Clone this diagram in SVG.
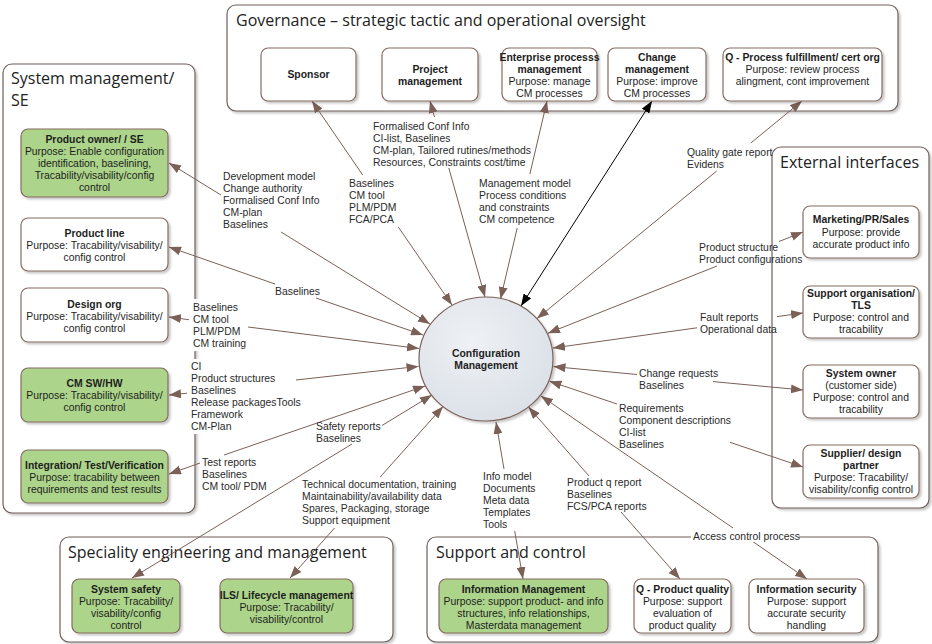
<svg xmlns="http://www.w3.org/2000/svg" width="932" height="644" viewBox="0 0 932 644">
<style>
.gb{fill:#fff;stroke:#6f5f5a;stroke-width:1.2}
.nb{fill:#fff;stroke:#866b60;stroke-width:1.2}
.ng{fill:#acd48a;stroke:#866b60;stroke-width:1.2}
text{font-family:"Liberation Sans",Arial,sans-serif;fill:#1e1e1e}
.ht{font-family:"Open Sans","Noto Sans",sans-serif;font-size:16px;fill:#222}
.tb{font-size:10.4px;font-weight:bold;text-anchor:middle}
.tp{font-size:10.4px;text-anchor:middle}
.lb{font-size:10.4px;fill:#2a2a2a}
.c{fill:none;stroke:#7b6057;stroke-width:1;marker-start:url(#a);marker-end:url(#a)}
.ck{fill:none;stroke:#000;stroke-width:1;marker-start:url(#ak);marker-end:url(#ak)}
</style>
<defs>
<marker id="a" viewBox="0 0 12 9" markerWidth="12" markerHeight="9" refX="12" refY="4.5" orient="auto-start-reverse" markerUnits="userSpaceOnUse"><path d="M0,0 L12,4.5 L0,9 z" fill="#7b6057"/></marker>
<marker id="ak" viewBox="0 0 12 9" markerWidth="12" markerHeight="9" refX="12" refY="4.5" orient="auto-start-reverse" markerUnits="userSpaceOnUse"><path d="M0,0 L12,4.5 L0,9 z" fill="#000"/></marker>
<filter id="sh" x="-10%" y="-10%" width="130%" height="130%"><feDropShadow dx="2" dy="2" stdDeviation="1.2" flood-color="#000" flood-opacity="0.22"/></filter>
<radialGradient id="cg" cx="40%" cy="35%" r="75%"><stop offset="0" stop-color="#eef1f5"/><stop offset="1" stop-color="#d9dfe6"/></radialGradient>
</defs>
<rect width="932" height="644" fill="#fff"/>

<!-- containers -->
<g id="governance">
<rect class="gb" x="227" y="5" width="671" height="106" rx="9" filter="url(#sh)"/>
<text class="ht" x="236" y="26">Governance – strategic tactic and operational oversight</text>
</g>
<g id="system-management">
<rect class="gb" x="3" y="64" width="192" height="449" rx="9" filter="url(#sh)"/>
<text class="ht" x="11" y="84">System management/</text>
<text class="ht" x="11" y="106">SE</text>
</g>
<g id="external-interfaces">
<rect class="gb" x="772" y="147" width="157" height="361" rx="9" filter="url(#sh)"/>
<text class="ht" x="780" y="168">External interfaces</text>
</g>
<g id="speciality">
<rect class="gb" x="60" y="537" width="333" height="105" rx="9" filter="url(#sh)"/>
<text class="ht" x="68" y="558">Speciality engineering and management</text>
</g>
<g id="support-control">
<rect class="gb" x="427" y="537" width="451" height="105" rx="9" filter="url(#sh)"/>
<text class="ht" x="436" y="558">Support and control</text>
</g>

<!-- connectors -->
<g id="connectors">
<path class="c" d="M169,163 L221,195 M281,232 L430,324"/>
<path class="c" d="M169,247 L275,284 M316,298 L423,335"/>
<path class="c" d="M169,317 L191,320 M248,327 L419,348.5"/>
<path class="c" d="M169,395 L189,393 M296,380 L418.5,366.4"/>
<path class="c" d="M169,474 L200,463 M224,455 L425,386"/>
<path class="c" d="M312,101 L362.7,175 M398.3,227 L452,305"/>
<path class="c" d="M430,101 L434.5,117 M448.8,168 L485,297"/>
<path class="c" d="M547,101 L529.9,174 M517.2,228 L500.5,299"/>
<path class="ck" d="M652,101 L521,306"/>
<path class="c" d="M802,101 L750.8,143 M716.7,171 L537,318.6"/>
<path class="c" d="M803,232 L779,241.5 M717,266 L548,333.2"/>
<path class="c" d="M803,313 L777,316.6 M697,327.8 L553,348"/>
<path class="c" d="M803,390 L713,381.6 M637,374.5 L553.5,366.6"/>
<path class="c" d="M803,467 L730,442.3 M617,404 L549.5,381.2"/>
<path class="c" d="M807,579 L752,541 M733,528 L541,396"/>
<path class="c" d="M680,579 L621,512 M589,476 L528.5,407"/>
<path class="c" d="M523,579 L514.7,531 M504,469 L496,422"/>
<path class="c" d="M290,578 L334.6,528 M380.2,477 L443,406.5"/>
<path class="c" d="M132,578 L352,444 M382,425.5 L432,395"/>
</g>

<!-- governance nodes -->
<g id="sponsor">
<rect class="nb" x="261" y="48" width="95" height="53" rx="7" filter="url(#sh)"/>
<text class="tb" x="308.5" y="78">Sponsor</text>
</g>
<g id="project-management">
<rect class="nb" x="382" y="48" width="96" height="53" rx="7" filter="url(#sh)"/>
<text class="tb" x="430" y="73">Project</text>
<text class="tb" x="430" y="85">management</text>
</g>
<g id="enterprise-process">
<rect class="nb" x="502" y="48" width="95" height="53" rx="7" filter="url(#sh)"/>
<text class="tb" x="549.5" y="61">Enterprise processs</text>
<text class="tb" x="549.5" y="73">management</text>
<text class="tp" x="549.5" y="85">Purpose: manage</text>
<text class="tp" x="549.5" y="97">CM processes</text>
</g>
<g id="change-management">
<rect class="nb" x="608" y="48" width="98" height="53" rx="7" filter="url(#sh)"/>
<text class="tb" x="657" y="61">Change</text>
<text class="tb" x="657" y="73">management</text>
<text class="tp" x="657" y="85">Purpose: improve</text>
<text class="tp" x="657" y="97">CM processes</text>
</g>
<g id="q-process">
<rect class="nb" x="723" y="48" width="159" height="53" rx="7" filter="url(#sh)"/>
<text class="tb" x="802.5" y="61">Q - Process fulfillment/ cert org</text>
<text class="tp" x="802.5" y="73">Purpose: review process</text>
<text class="tp" x="802.5" y="85">alingment, cont improvement</text>
</g>

<!-- system management nodes -->
<g id="product-owner">
<rect class="ng" x="21" y="129" width="147" height="68" rx="7" filter="url(#sh)"/>
<text class="tb" x="94.5" y="143">Product owner/ / SE</text>
<text class="tp" x="94.5" y="155">Purpose: Enable configuration</text>
<text class="tp" x="94.5" y="167">identification, baselining,</text>
<text class="tp" x="94.5" y="179">Tracability/visability/config</text>
<text class="tp" x="94.5" y="191">control</text>
</g>
<g id="product-line">
<rect class="nb" x="21" y="218" width="147" height="53" rx="7" filter="url(#sh)"/>
<text class="tb" x="94.5" y="237">Product line</text>
<text class="tp" x="94.5" y="249">Purpose: Tracability/visability/</text>
<text class="tp" x="94.5" y="261">config control</text>
</g>
<g id="design-org">
<rect class="nb" x="21" y="288" width="147" height="54" rx="7" filter="url(#sh)"/>
<text class="tb" x="94.5" y="308">Design org</text>
<text class="tp" x="94.5" y="320">Purpose: Tracability/visability/</text>
<text class="tp" x="94.5" y="332">config control</text>
</g>
<g id="cm-sw-hw">
<rect class="ng" x="21" y="368" width="147" height="54" rx="7" filter="url(#sh)"/>
<text class="tb" x="94.5" y="387">CM SW/HW</text>
<text class="tp" x="94.5" y="399">Purpose: Tracability/visability/</text>
<text class="tp" x="94.5" y="411">config control</text>
</g>
<g id="integration">
<rect class="ng" x="21" y="450" width="147" height="53" rx="7" filter="url(#sh)"/>
<text class="tb" x="94.5" y="469">Integration/ Test/Verification</text>
<text class="tp" x="94.5" y="481">Purpose: tracability between</text>
<text class="tp" x="94.5" y="493">requirements and test results</text>
</g>

<!-- external nodes -->
<g id="marketing">
<rect class="nb" x="803" y="206" width="116" height="52" rx="7" filter="url(#sh)"/>
<text class="tb" x="861" y="223">Marketing/PR/Sales</text>
<text class="tp" x="861" y="236">Purpose: provide</text>
<text class="tp" x="861" y="248">accurate product info</text>
</g>
<g id="support-organisation">
<rect class="nb" x="803" y="286" width="116" height="52" rx="7" filter="url(#sh)"/>
<text class="tb" x="861" y="297">Support organisation/</text>
<text class="tb" x="861" y="309">TLS</text>
<text class="tp" x="861" y="321">Purpose: control and</text>
<text class="tp" x="861" y="333">tracability</text>
</g>
<g id="system-owner">
<rect class="nb" x="803" y="365" width="116" height="53" rx="7" filter="url(#sh)"/>
<text class="tb" x="861" y="377">System owner</text>
<text class="tp" x="861" y="389">(customer side)</text>
<text class="tp" x="861" y="401">Purpose: control and</text>
<text class="tp" x="861" y="413">tracability</text>
</g>
<g id="supplier">
<rect class="nb" x="803" y="445" width="116" height="53" rx="7" filter="url(#sh)"/>
<text class="tb" x="861" y="457">Supplier/ design</text>
<text class="tb" x="861" y="469">partner</text>
<text class="tp" x="861" y="481">Purpose: Tracability/</text>
<text class="tp" x="861" y="493">visability/config control</text>
</g>

<!-- speciality nodes -->
<g id="system-safety">
<rect class="ng" x="72" y="579" width="108" height="54" rx="7" filter="url(#sh)"/>
<text class="tb" x="126" y="593">System safety</text>
<text class="tp" x="126" y="605">Purpose: Tracability/</text>
<text class="tp" x="126" y="617">visability/config</text>
<text class="tp" x="126" y="629">control</text>
</g>
<g id="ils">
<rect class="ng" x="220" y="579" width="133" height="54" rx="7" filter="url(#sh)"/>
<text class="tb" x="286.5" y="599">ILS/ Lifecycle management</text>
<text class="tp" x="286.5" y="611">Purpose: Tracability/</text>
<text class="tp" x="286.5" y="623">visability/control</text>
</g>

<!-- support nodes -->
<g id="information-management">
<rect class="ng" x="439" y="579" width="169" height="54" rx="7" filter="url(#sh)"/>
<text class="tb" x="523.5" y="593">Information Management</text>
<text class="tp" x="523.5" y="605">Purpose: support product- and info</text>
<text class="tp" x="523.5" y="617">structures, info relationships,</text>
<text class="tp" x="523.5" y="629">Masterdata management</text>
</g>
<g id="q-product-quality">
<rect class="nb" x="634" y="579" width="97" height="54" rx="7" filter="url(#sh)"/>
<text class="tb" x="682.5" y="593">Q - Product quality</text>
<text class="tp" x="682.5" y="605">Purpose: support</text>
<text class="tp" x="682.5" y="617">evaluation of</text>
<text class="tp" x="682.5" y="629">product quality</text>
</g>
<g id="information-security">
<rect class="nb" x="749" y="579" width="115" height="54" rx="7" filter="url(#sh)"/>
<text class="tb" x="806.5" y="593">Information security</text>
<text class="tp" x="806.5" y="605">Purpose: support</text>
<text class="tp" x="806.5" y="617">accurate security</text>
<text class="tp" x="806.5" y="629">handling</text>
</g>

<!-- central node -->
<g id="configuration-management">
<ellipse cx="486" cy="359" rx="67" ry="62" fill="url(#cg)" stroke="#7b6057" stroke-width="1.2" filter="url(#sh)"/>
<text class="tb" x="486" y="357">Configuration</text>
<text class="tb" x="486" y="369">Management</text>
</g>

<!-- connector labels -->
<g id="labels">
<rect x="189" y="299" width="10" height="52" fill="#fff"/>
<rect x="187" y="359" width="12" height="75" fill="#fff"/>
<rect x="691" y="530" width="108" height="12" fill="#fff"/>
<text class="lb"><tspan x="223" y="180">Development model</tspan><tspan x="223" y="192">Change authority</tspan><tspan x="223" y="204">Formalised  Conf Info</tspan><tspan x="223" y="216">CM-plan</tspan><tspan x="223" y="228">Baselines</tspan></text>
<text class="lb" x="275" y="295">Baselines</text>
<text class="lb"><tspan x="349" y="187">Baselines</tspan><tspan x="349" y="199">CM tool</tspan><tspan x="349" y="211">PLM/PDM</tspan><tspan x="349" y="223">FCA/PCA</tspan></text>
<text class="lb"><tspan x="373" y="130">Formalised Conf Info</tspan><tspan x="373" y="142">CI-list, Baselines</tspan><tspan x="373" y="154">CM-plan, Tailored rutines/methods</tspan><tspan x="373" y="166">Resources, Constraints cost/time</tspan></text>
<text class="lb"><tspan x="479" y="187">Management model</tspan><tspan x="479" y="199">Process conditions</tspan><tspan x="479" y="211">and constraints</tspan><tspan x="479" y="223">CM competence</tspan></text>
<text class="lb"><tspan x="687" y="156">Quality gate report</tspan><tspan x="687" y="168">Evidens</tspan></text>
<text class="lb"><tspan x="699" y="251">Product structure</tspan><tspan x="699" y="263">Product configurations</tspan></text>
<text class="lb"><tspan x="700" y="321">Fault reports</tspan><tspan x="700" y="333">Operational data</tspan></text>
<text class="lb"><tspan x="639" y="377">Change requests</tspan><tspan x="639" y="389">Baselines</tspan></text>
<text class="lb"><tspan x="619" y="412">Requirements</tspan><tspan x="619" y="424">Component descriptions</tspan><tspan x="619" y="436">CI-list</tspan><tspan x="619" y="448">Baselines</tspan></text>
<text class="lb"><tspan x="567" y="486">Product q report</tspan><tspan x="567" y="498">Baselines</tspan><tspan x="567" y="510">FCS/PCA reports</tspan></text>
<text class="lb"><tspan x="483" y="480">Info model</tspan><tspan x="483" y="492">Documents</tspan><tspan x="483" y="504">Meta data</tspan><tspan x="483" y="516">Templates</tspan><tspan x="483" y="528">Tools</tspan></text>
<text class="lb"><tspan x="302" y="488">Technical documentation, training</tspan><tspan x="302" y="500">Maintainability/availability data</tspan><tspan x="302" y="512">Spares, Packaging, storage</tspan><tspan x="302" y="524">Support equipment</tspan></text>
<text class="lb"><tspan x="316" y="430">Safety reports</tspan><tspan x="316" y="442">Baselines</tspan></text>
<text class="lb"><tspan x="202" y="466">Test reports</tspan><tspan x="202" y="478">Baselines</tspan><tspan x="202" y="490">CM tool/ PDM</tspan></text>
<text class="lb"><tspan x="193" y="311">Baselines</tspan><tspan x="193" y="323">CM tool</tspan><tspan x="193" y="335">PLM/PDM</tspan><tspan x="193" y="347">CM training</tspan></text>
<text class="lb"><tspan x="191" y="370">CI</tspan><tspan x="191" y="382">Product structures</tspan><tspan x="191" y="394">Baselines</tspan><tspan x="191" y="406">Release packagesTools</tspan><tspan x="191" y="418">Framework</tspan><tspan x="191" y="430">CM-Plan</tspan></text>
<text class="lb" x="693" y="540">Access control process</text>
</g>
</svg>
